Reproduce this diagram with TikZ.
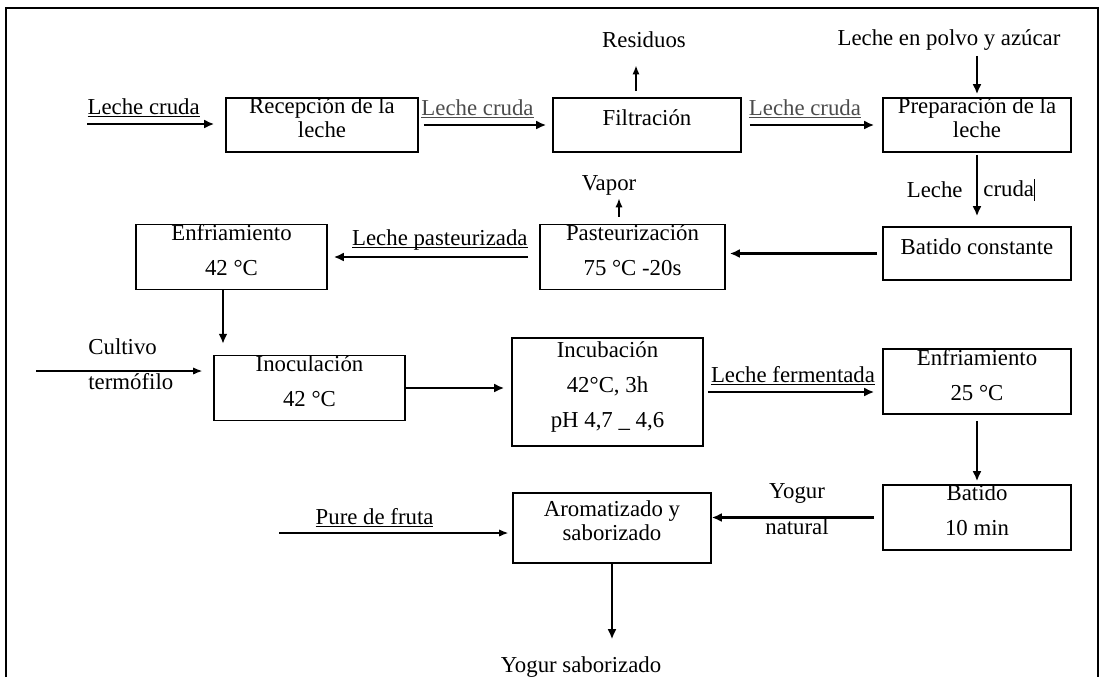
\documentclass[tikz,border=0pt]{standalone}
\usepackage{fontspec}
\setmainfont{Liberation Serif}
\usetikzlibrary{arrows.meta}
\newcommand{\ulbl}[1]{\setbox0\hbox{#1}\rlap{\rule[-1.3pt]{\wd0}{0.5pt}}\box0}
\tikzset{
	proc/.style={draw,line width=0.8pt,align=center,inner sep=0pt,
		font=\fontsize{11.4}{12}\selectfont,execute at end node={\rule[-7pt]{0pt}{0pt}}},
	lbl/.style={font=\fontsize{11.4}{12}\selectfont,inner sep=1.5pt},
	ul lbl/.style={lbl,inner ysep=2.6pt},
	flow/.style={-{Latex[length=5pt,width=4.5pt]},line width=1.4pt},
	thin flow/.style={-{Latex[length=4.5pt,width=3.6pt]},line width=0.6pt}
}

\begin{document}
\begin{tikzpicture}[x=0.5pt,y=-0.5pt]
\useasboundingbox (0,0) rectangle (1105,677);
\draw[line width=0.9pt] (6,677) -- (6,8) -- (1098,8) -- (1098,677);

\node[proc,minimum width=96pt,minimum height=27pt] (rec) at (322,125) {Recepción de la\\leche};
\node[proc,minimum width=94pt,minimum height=27pt] (fil) at (647,125) {Filtración};
\node[proc,minimum width=94pt,minimum height=27pt] (prep) at (977,125) {Preparación de la\\leche};
\node[proc,minimum width=95.5pt,minimum height=30pt] (enf1) at (231.5,257) {Enfriamiento\\[5.5pt]42 °C};
\node[proc,minimum width=92.5pt,minimum height=30pt] (past) at (632.5,257) {Pasteurización\\[5.5pt]75 °C -20s};
\node[proc,minimum width=94pt,minimum height=26.5pt] (bat1) at (977,253.5) {Batido constante};
\node[proc,minimum width=95.5pt,minimum height=30pt] (ino) at (309.5,388) {Inoculación\\[5.5pt]42 °C};
\node[proc,minimum width=95.5pt,minimum height=54pt] (inc) at (607.5,392) {Incubación\\[5.5pt]42°C, 3h\\[5.5pt]pH 4,7 \_ 4,6};
\node[proc,minimum width=94pt,minimum height=30.5pt] (enf2) at (977,381.5) {Enfriamiento\\[5.5pt]25 °C};
\node[proc,minimum width=94pt,minimum height=32.5pt] (bat2) at (977,517.5) {Batido\\[5.5pt]10 min};
\node[proc,minimum width=99pt,minimum height=35pt] (aro) at (612,528) {Aromatizado y\\saborizado};

\node[lbl] (res) at (644,40) {Residuos};
\node[lbl] (lp) at (949,40) {Leche en polvo y azúcar};
\node[lbl] (vap) at (609,185) {Vapor};
\node[lbl,anchor=west] (cul1) at (85,347) {Cultivo};
\node[lbl,anchor=west] (cul2) at (85,382) {termófilo};
\node[lbl] (out) at (581,667) {Yogur saborizado};

\coordinate (in1) at (87,124);
\coordinate (cul) at (36,371);
\coordinate (pure) at (279,533);
\coordinate (resX) at (636,0);
\coordinate (vapX) at (619,0);
\coordinate (coolX) at (223,0);

\draw[flow,shorten >=5.5pt] (in1) -- node[ul lbl,above,pos=0.41] {\ulbl{Leche cruda}} (in1 -| rec.west);
\draw[flow,shorten <=2.5pt,shorten >=3pt] (rec.east) -- node[ul lbl,above,pos=0.44,text=black!70] {\ulbl{Leche cruda}} (fil.west);
\draw[flow,shorten <=4pt,shorten >=4pt] (fil.east) -- node[ul lbl,above,pos=0.45,text=black!70] {\ulbl{Leche cruda}} (prep.west);
\draw[thin flow,line width=0.8pt,shorten <=3pt,shorten >=7pt] (resX |- fil.north) -- (resX |- res.south);
\draw[flow,shorten <=1pt,shorten >=1.5pt] (lp.south -| prep.north) -- (prep.north);
\draw[flow,shorten <=1pt,shorten >=5pt] (prep.south) -- node[lbl,left,pos=0.5,xshift=-5pt] {Leche}
	node[lbl,right,pos=0.5,xshift=1pt] {cruda\rule[-2pt]{0.5pt}{11pt}} (bat1.north);
\draw[flow,shorten <=2.5pt,shorten >=2pt] (bat1.west) -- (bat1.west -| past.east);
\draw[thin flow,line width=0.8pt,shorten <=3.5pt] (vapX |- past.north) -- (vapX |- vap.south);
\draw[flow,shorten <=5.5pt,shorten >=3pt] (past.west) -- node[ul lbl,above,pos=0.47] {\ulbl{Leche pasteurizada}} (past.west -| enf1.east);
\draw[flow,shorten >=5.5pt] (coolX |- enf1.south) -- (coolX |- ino.north);
\draw[thin flow,shorten >=5.5pt] (cul) -- (cul -| ino.west);
\draw[flow,shorten >=3.5pt] (ino.east) -- (ino.east -| inc.west);
\draw[flow,shorten <=2pt,shorten >=4pt] (inc.east) -- node[ul lbl,above] {\ulbl{Leche fermentada}} (inc.east -| enf2.west);
\draw[flow,shorten <=3pt,shorten >=1.5pt] (enf2.south) -- (bat2.north);
\draw[flow,shorten <=4pt] (bat2.west) -- node[lbl,above,yshift=5pt] {Yogur} node[lbl,below,inner sep=0pt] {natural} (bat2.west -| aro.east);
\draw[thin flow,shorten >=2pt] (pure) -- node[ul lbl,above,pos=0.41] {\ulbl{Pure de fruta}} (pure -| aro.west);
\draw[flow,shorten >=7pt] (aro.south) -- (aro.south |- out.north);
\end{tikzpicture}
\end{document}
